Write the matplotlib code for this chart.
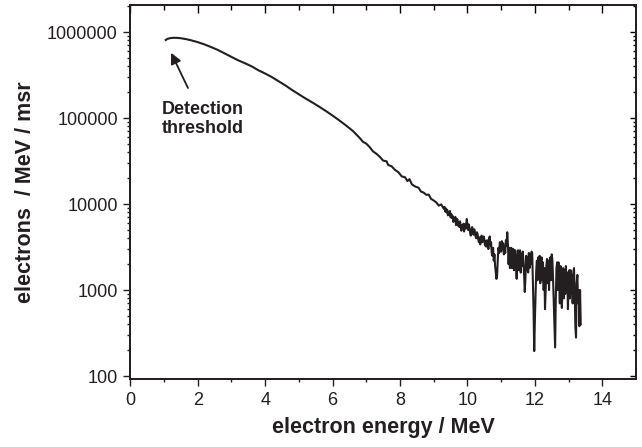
import matplotlib
matplotlib.use('Agg')
import matplotlib.pyplot as plt
from matplotlib.ticker import FixedLocator, NullFormatter, LogLocator

plt.rcParams['font.family'] = ['Liberation Sans', 'DejaVu Sans']

# spectrum (electron energy in MeV, electrons / MeV / msr)
# smooth part up to ~9.3 MeV
energy_low = [1.05, 1.10, 1.20, 1.30, 1.40, 1.50, 1.65, 1.80, 2.00, 2.20,
              2.40, 2.60, 2.80, 3.00, 3.20, 3.40, 3.60, 3.80, 4.00, 4.20,
              4.40, 4.60, 4.80, 5.00, 5.20, 5.40, 5.60, 5.80, 6.00, 6.20,
              6.40, 6.60, 6.80, 6.90, 7.00, 7.10, 7.20, 7.30, 7.40, 7.50,
              7.60, 7.65, 7.75, 7.85, 7.95, 8.05, 8.15, 8.22, 8.28, 8.35,
              8.45, 8.55, 8.62, 8.70, 8.78, 8.85, 8.92, 9.00, 9.08, 9.15,
              9.22]
counts_low = [810000, 835000, 855000, 860000, 858000, 850000, 830000, 805000, 765000, 720000,
              670000, 620000, 565000, 515000, 470000, 435000, 400000, 360000, 330000, 300000,
              268000, 240000, 212000, 189000, 169000, 152000, 136000, 121000, 107000, 94000,
              82000, 71000, 59000, 53000, 50500, 46000, 41000, 38500, 35500, 32000,
              31500, 28500, 27500, 25000, 23500, 21000, 20500, 18500, 19500, 17000,
              16000, 15500, 14000, 13600, 12800, 12900, 11500, 11000, 10400, 9600,
              9900]

# noisy tail
energy_high = [9.30, 9.32, 9.34, 9.36, 9.38, 9.40, 9.42, 9.44, 9.46, 9.48,
               9.50, 9.52, 9.54, 9.56, 9.58, 9.60, 9.62, 9.64, 9.66, 9.68,
               9.70, 9.72, 9.74, 9.76, 9.78, 9.80, 9.82, 9.84, 9.86, 9.88,
               9.90, 9.92, 9.94, 9.96, 9.98, 10.00, 10.02, 10.04, 10.06, 10.08,
               10.10, 10.12, 10.14, 10.16, 10.18, 10.20, 10.22, 10.24, 10.26, 10.28,
               10.30, 10.32, 10.34, 10.36, 10.38, 10.40, 10.42, 10.44, 10.46, 10.48,
               10.50, 10.52, 10.54, 10.56, 10.58, 10.60, 10.62, 10.64, 10.66, 10.68,
               10.70, 10.72, 10.74, 10.76, 10.78, 10.80, 10.82, 10.84, 10.86, 10.88,
               10.90, 10.92, 10.94, 10.96, 10.98, 11.00, 11.02, 11.04, 11.06, 11.08,
               11.10, 11.12, 11.14, 11.16, 11.18, 11.20, 11.22, 11.24, 11.26, 11.28,
               11.30, 11.32, 11.34, 11.36, 11.38, 11.40, 11.42, 11.44, 11.46, 11.48,
               11.50, 11.52, 11.54, 11.56, 11.58, 11.60, 11.62, 11.64, 11.66, 11.68,
               11.70, 11.72, 11.74, 11.76, 11.78, 11.80, 11.82, 11.84, 11.86, 11.88,
               11.90, 11.92, 11.94, 11.96, 11.98, 12.00, 12.02, 12.04, 12.06, 12.08,
               12.10, 12.12, 12.14, 12.16, 12.18, 12.20, 12.22, 12.24, 12.26, 12.28,
               12.30, 12.32, 12.34, 12.36, 12.38, 12.40, 12.42, 12.44, 12.46, 12.48,
               12.50, 12.52, 12.54, 12.56, 12.58, 12.60, 12.62, 12.64, 12.66, 12.68,
               12.70, 12.72, 12.74, 12.76, 12.78, 12.80, 12.82, 12.84, 12.86, 12.88,
               12.90, 12.92, 12.94, 12.96, 12.98, 13.00, 13.02, 13.04, 13.06, 13.08,
               13.10, 13.12, 13.14, 13.16, 13.18, 13.20, 13.22, 13.24, 13.26, 13.28,
               13.30, 13.32, 13.34, 13.36]
counts_high = [8800, 9300, 8200, 8900, 8000, 8600, 7400, 8100, 7600, 8300,
               7000, 7700, 6900, 7300, 6200, 6900, 6400, 7100, 5700, 6300,
               6700, 5600, 6100, 5400, 6300, 5500, 4900, 5700, 5300, 5900,
               4800, 5400, 5900, 5200, 6700, 5600, 5000, 5800, 5300, 4600,
               4300, 5000, 5400, 4700, 4400, 5100, 4800, 4200, 4000, 4700,
               4500, 3900, 3600, 4100, 3400, 3900, 4300, 3600, 3700, 4200,
               3900, 3300, 3700, 3200, 3800, 3500, 3000, 3900, 4200, 3300,
               3600, 2700, 2500, 3100, 2200, 2600, 1900, 1600, 1350, 1500,
               2300, 3100, 2700, 3600, 3300, 2800, 3700, 3000, 3500, 2600,
               3200, 2700, 3800, 3300, 4700, 3400, 2000, 3100, 1800, 2600,
               3100, 1800, 2600, 3000, 1700, 2700, 2900, 1900, 1350, 2400,
               2900, 1700, 2600, 2900, 1600, 2600, 1900, 2800, 2200, 1500,
               950, 1400, 2500, 1700, 2400, 1600, 2700, 1800, 2600, 2000,
               2800, 2700, 1300, 600, 195, 450, 900, 1700, 2200, 1300,
               2400, 1400, 2500, 1200, 2200, 2400, 1300, 2100, 1000, 1800,
               600, 1000, 1900, 2300, 1200, 2200, 1000, 2000, 2400, 1300,
               2600, 2200, 1300, 700, 350, 215, 800, 1800, 2100, 1000,
               2100, 1300, 700, 1900, 1000, 620, 1200, 1800, 800, 1700,
               900, 1900, 1100, 1600, 600, 1200, 1700, 800, 1700, 900,
               1500, 700, 1600, 1800, 1000, 380, 280, 1200, 1500, 700,
               1000, 380, 1000, 400]

x_major = [0, 2, 4, 6, 8, 10, 12, 14]
x_minor = [1, 3, 5, 7, 9, 11, 13]
y_major = [100, 1000, 10000, 100000, 1000000]
y_labels = ['100', '1000', '10000', '100000', '1000000']

fig = plt.figure(figsize=(6.42, 4.47), dpi=100)
ax = fig.add_axes([0.203, 0.1514, 0.7877, 0.8366])

ax.plot(energy_low + energy_high, counts_low + counts_high, color='#231f20', lw=1.5)
ax.set_yscale('log')
ax.set_xlim(0, 15)
ax.set_ylim(91.5, 2.05e6)

ax.xaxis.set_major_locator(FixedLocator(x_major))
ax.xaxis.set_minor_locator(FixedLocator(x_minor))
ax.set_xticklabels([str(v) for v in x_major])
ax.yaxis.set_major_locator(FixedLocator(y_major))
ax.set_yticklabels(y_labels)
ax.yaxis.set_minor_locator(LogLocator(base=10, subs=range(2, 10)))
ax.yaxis.set_minor_formatter(NullFormatter())
ax.tick_params(which='both', direction='out', top=False, right=False,
               labelsize=13, width=1.0, color='#231f20', labelcolor='#231f20')
ax.tick_params(which='major', length=5, pad=4)
ax.tick_params(which='minor', length=2.5)

# top and right axes have inward ticks
axr = ax.twinx()
axr.set_yscale('log')
axr.set_ylim(ax.get_ylim())
axr.yaxis.set_major_locator(FixedLocator(y_major))
axr.yaxis.set_minor_locator(LogLocator(base=10, subs=range(2, 10)))
axr.tick_params(which='both', direction='in', labelright=False, width=1.0)
axr.tick_params(which='major', length=4)
axr.tick_params(which='minor', length=2.5)

axt = ax.twiny()
axt.set_xlim(ax.get_xlim())
axt.xaxis.set_major_locator(FixedLocator(x_major))
axt.xaxis.set_minor_locator(FixedLocator(x_minor))
axt.tick_params(which='both', direction='in', labeltop=False, width=1.0)
axt.tick_params(which='major', length=6)
axt.tick_params(which='minor', length=3.5)

for a in (ax, axr, axt):
    for s in a.spines.values():
        s.set_linewidth(1.2)
        s.set_color('#231f20')

ax.set_xlabel('electron energy / MeV', fontsize=15.5, fontweight='bold',
              labelpad=6, color='#231f20')
ax.set_ylabel('electrons  / MeV / msr', fontsize=15.5, fontweight='bold',
              labelpad=8, color='#231f20')

ax.text(0.94, 98000, 'Detection\nthreshold', fontsize=13, fontweight='bold',
        color='#231f20', va='center', ha='left', linespacing=1.2)
ax.annotate('', xy=(1.21, 575000), xytext=(1.71, 224000),
            arrowprops=dict(arrowstyle='-|>', color='#231f20', lw=1.3,
                            mutation_scale=16, shrinkA=0, shrinkB=0))

fig.savefig('out.png', dpi=100)
